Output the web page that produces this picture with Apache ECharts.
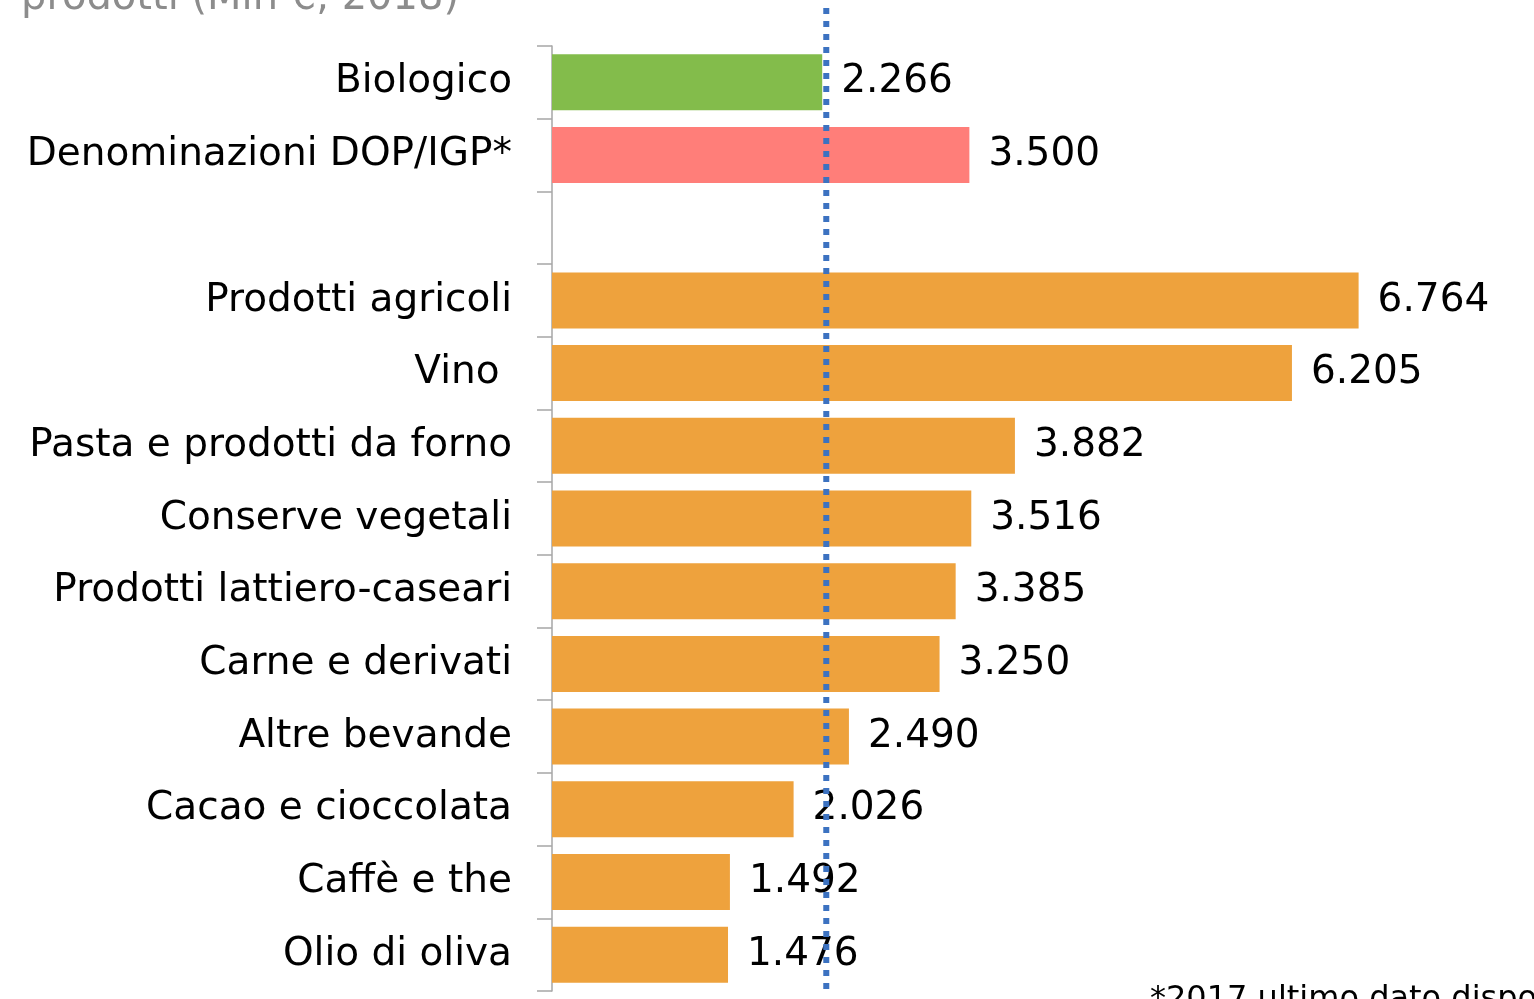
<!DOCTYPE html>
<html><head><meta charset="utf-8">
<script src="https://cdn.jsdelivr.net/npm/echarts@6/dist/echarts.min.js"></script>
<style>html,body{margin:0;padding:0;background:#fff}#c{width:1534px;height:999px}</style>
</head><body><div id="c"></div>
<script>
const categories = ["Biologico","Denominazioni DOP/IGP*","","Prodotti agricoli","Vino ","Pasta e prodotti da forno","Conserve vegetali","Prodotti lattiero-caseari","Carne e derivati","Altre bevande","Cacao e cioccolata","Caffè e the","Olio di oliva"];
const values = [2266,3500,null,6764,6205,3882,3516,3385,3250,2490,2026,1492,1476];
const refLineValue = 2300;
const titleText = "prodotti (Mln €, 2018)";
const footnoteText = "*2017 ultimo dato disponibile";

const barColors = ["#83BC4B","#FF7E79",null,"#EEA23D","#EEA23D","#EEA23D","#EEA23D","#EEA23D","#EEA23D","#EEA23D","#EEA23D","#EEA23D","#EEA23D"];
const FONT = "'DejaVu Sans', sans-serif";

function fmt(v){ return String(v).replace(/\B(?=(\d{3})+(?!\d))/g, "."); }

const chart = echarts.init(document.getElementById('c'), null, {renderer:'canvas'});
chart.setOption({
  animation:false,
  title:{text:titleText, left:16, top:-26, textStyle:{color:'#8c8c8c', fontSize:40, fontWeight:'normal', fontFamily:FONT}},
  grid:{left:552, top:46, bottom:8, width:954},
  xAxis:{type:'value', min:0, max:8000, show:false},
  yAxis:{type:'category', data:categories, inverse:true,
    axisLine:{show:true, lineStyle:{color:'#a6a6a6', width:1.5}},
    axisTick:{show:true, length:15, lineStyle:{color:'#a6a6a6', width:1.5}},
    axisLabel:{margin:40, color:'#000', fontSize:39, fontFamily:FONT, padding:[6,0,0,0]}
  },
  series:[{
    type:'bar', barWidth:56,
    data: values.map((v,i)=>({value:v, itemStyle:{color:barColors[i]||'#EEA23D'}})),
    label:{show:true, position:'right', distance:19, color:'#000', fontSize:39, fontFamily:FONT, padding:[6,0,0,0],
      formatter:p=> p.value==null? '' : fmt(p.value)}
  }]
});
const px = chart.convertToPixel({xAxisIndex:0}, refLineValue);
chart.setOption({graphic:[
  {type:'line', shape:{x1:px,y1:8,x2:px,y2:995}, style:{stroke:'#3C72C1', lineWidth:6, lineDash:[6,7]}, z:100},
  {type:'text', left:1150, top:984, style:{text:footnoteText, fontSize:32, fontFamily:FONT, fill:'#000'}}
]});
</script></body></html>
